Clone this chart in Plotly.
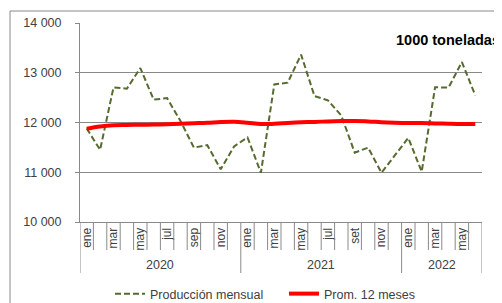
import plotly.graph_objects as go

# ---- data ----
year_labels = ["2020", "2021", "2022"]
months_per_year = [12, 12, 6]
month_ticks = ["ene", "", "mar", "", "may", "", "jul", "", "sep", "", "nov", "",
               "ene", "", "mar", "", "may", "", "jul", "", "set", "", "nov", "",
               "ene", "", "mar", "", "may", ""]
produccion = [11880, 11450, 12705, 12680, 13095, 12460, 12490, 12030, 11495, 11545, 11060, 11520,
              11700, 10990, 12765, 12800, 13365, 12530, 12445, 12140, 11395, 11495, 10990, 11340,
              11690, 11010, 12710, 12700, 13215, 12545]
promedio = [11875, 11920, 11945, 11950, 11955, 11958, 11965, 11975, 11985, 11995, 12010, 12015,
            11995, 11968, 11975, 11990, 12003, 12012, 12022, 12028, 12028, 12022, 12005, 11995,
            11990, 11990, 11982, 11975, 11970, 11970]
series_names = ["Producción mensual", "Prom. 12 meses"]
unit_label = "1000 toneladas"

n = len(produccion)
xs = list(range(n))

# ---- layout geometry (pixels); page body has an 8px margin ----
OFF = 8
W, H = 502 - OFF, 303 - OFF
ML, MT = 80 - OFF, 23 - OFF
MR, MB = W - (482 - OFF), H - (222 - OFF)
PW, PH = W - ML - MR, H - MT - MB
GRAY = "#898989"
FONT = "Liberation Sans, Arial, sans-serif"


def px_x(p):  # page pixel -> paper x
    return (p - OFF - ML) / PW


def px_y(p):  # page pixel -> paper y
    return (H - MB - (p - OFF)) / PH


fig = go.Figure()
fig.add_trace(go.Scatter(x=xs, y=produccion, mode="lines", name=series_names[0],
                         line=dict(color="#556B2F", width=2, dash="6px,3px")))
fig.add_trace(go.Scatter(x=xs, y=promedio, mode="lines", name=series_names[1],
                         line=dict(color="#FF0000", width=4, shape="spline")))

shapes = []
bounds = [0]
for m in months_per_year:
    bounds.append(bounds[-1] + m)
for i in range(n + 1):
    long = i in bounds
    shapes.append(dict(type="line", xref="x", yref="paper", x0=i - 0.5, x1=i - 0.5,
                       y0=0, y1=-(51 if long else 28) / PH,
                       line=dict(color=GRAY, width=1)))
# outer border
shapes.append(dict(type="rect", xref="paper", yref="paper",
                   x0=px_x(10), x1=px_x(520), y0=px_y(320), y1=px_y(11),
                   line=dict(color=GRAY, width=1)))

annotations = []
for k, yl in enumerate(year_labels):
    c = (bounds[k] + bounds[k + 1] - 1) / 2
    annotations.append(dict(x=c, xref="x", y=-43 / PH, yref="paper", text=yl,
                            showarrow=False, font=dict(size=12.5, color="#404040", family=FONT),
                            xanchor="center", yanchor="middle"))
annotations.append(dict(x=px_x(502), xref="paper", y=px_y(40), yref="paper",
                        text="<b>" + unit_label + "</b>", showarrow=False,
                        xanchor="right", yanchor="middle",
                        font=dict(size=14.5, color="#000000", family=FONT)))

fig.update_layout(
    width=W, height=H,
    margin=dict(l=ML, r=MR, t=MT, b=MB, autoexpand=False),
    paper_bgcolor="white", plot_bgcolor="white",
    separators=", ",
    font=dict(family=FONT, size=12, color="#404040"),
    showlegend=True,
    legend=dict(orientation="h", xref="container", yref="container",
                x=(110 - OFF) / W, xanchor="left",
                y=1 - (294 - OFF) / H, yanchor="middle",
                entrywidth=129, entrywidthmode="pixels",
                font=dict(size=12.5, color="#404040", family=FONT),
                bgcolor="rgba(0,0,0,0)", tracegroupgap=0),
    shapes=shapes,
    annotations=annotations,
    xaxis=dict(range=[-0.5, n - 0.5], tickvals=xs, ticktext=month_ticks, tickangle=-90,
               ticks="", showgrid=False, zeroline=False, showline=True, linecolor=GRAY,
               automargin=False,
               tickfont=dict(size=12, color="#404040", family=FONT)),
    yaxis=dict(range=[10000, 14000], dtick=1000, tickformat=",", showgrid=True,
               gridcolor=GRAY, gridwidth=1, zeroline=False, showline=True, linecolor=GRAY,
               ticks="outside", ticklen=4, tickcolor=GRAY, automargin=False,
               ticklabelstandoff=11,
               tickfont=dict(size=12.5, color="#404040", family=FONT)),
)

fig.write_html("out.html")
